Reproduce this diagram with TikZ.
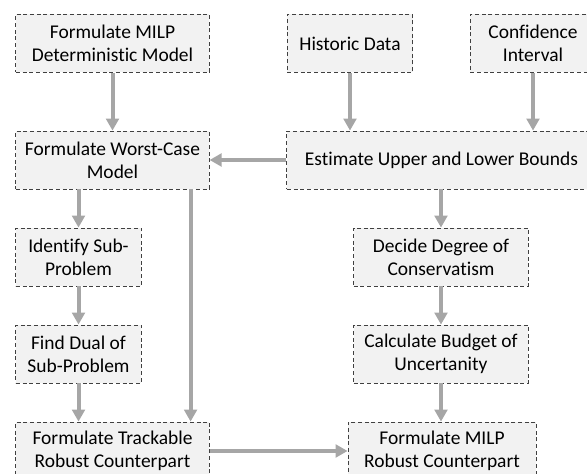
\documentclass[tikz,border=0pt]{standalone}
\usepackage{fontspec}
\setmainfont{Carlito}[Ligatures=NoCommon]
\usetikzlibrary{arrows.meta}
\definecolor{boxfill}{HTML}{F2F2F2}
\definecolor{boxline}{HTML}{404040}
\definecolor{flowgray}{HTML}{A6A6A6}
\begin{document}
\begin{tikzpicture}[x=0.75pt, y=-0.75pt, line cap=butt, line join=miter]
	\tikzset{
		box_base/.style={rectangle, draw=boxline, fill=boxfill, line width=0.6pt,
			dash pattern=on 3pt off 2pt, align=center, inner sep=0pt,
			font=\fontsize{14.6}{17.4}\selectfont},
		box_narrow/.style={box_base, minimum width=94pt, minimum height=43.5pt},
		box_mid/.style={box_base, minimum width=131pt, minimum height=43.5pt},
		box_wide/.style={box_base, minimum width=145pt, minimum height=43.5pt},
		flow/.style={draw=flowgray, line width=3pt, -{Triangle[length=9pt, width=9.5pt]}}
	}
	\useasboundingbox (0,0) rectangle (587,474);
	% top row
	\node[box_wide] (det) at (112.5,43.5) {Formulate MILP\\Deterministic Model};
	\node[box_narrow] (hist) at (350,43.5) {Historic Data};
	\node[box_narrow] (conf) at (533,43.5) {Confidence\\Interval};
	% second row
	\node[box_wide] (worst) at (112.5,160) {Formulate Worst-Case\\Model};
	\node[box_base, minimum width=232pt, minimum height=43.5pt] (bounds) at (441.5,160) {Estimate Upper and Lower Bounds};
	% left column
	\node[box_narrow] (sub) at (78.5,257) {Identify Sub-\\Problem};
	\node[box_narrow] (dual) at (78.5,354) {Find Dual of\\Sub-Problem};
	\node[box_wide] (track) at (112.5,451) {Formulate Trackable\\Robust Counterpart};
	% right column
	\node[box_mid] (cons) at (441,257) {Decide Degree of\\Conservatism};
	\node[box_mid] (budget) at (441,354) {Calculate Budget of\\Uncertanity};
	\node[box_base, minimum width=141pt, minimum height=43.5pt] (robust) at (442,451) {Formulate MILP\\Robust Counterpart};

	% arrows
	\draw[flow] (det) -- (worst);
	\foreach \from/\to in {hist/bounds, conf/bounds, budget/robust, dual/track} {
		\draw[flow] (\from.south) -- (\from.south |- \to.north);
	}
	\draw[flow] (sub) -- (dual);
	\draw[flow] (cons) -- (budget);
	\draw[flow] (bounds.south -| cons.north) -- (cons.north);
	\draw[flow] (bounds.west) -- (worst.east);
	\draw[flow] (sub.north |- worst.south) -- (sub.north);
	\draw[flow] ([xshift=-14.25pt]worst.south east) -- ([xshift=-14.25pt]track.north east);
	\draw[flow] (track.east) -- (robust.west);
\end{tikzpicture}
\end{document}
